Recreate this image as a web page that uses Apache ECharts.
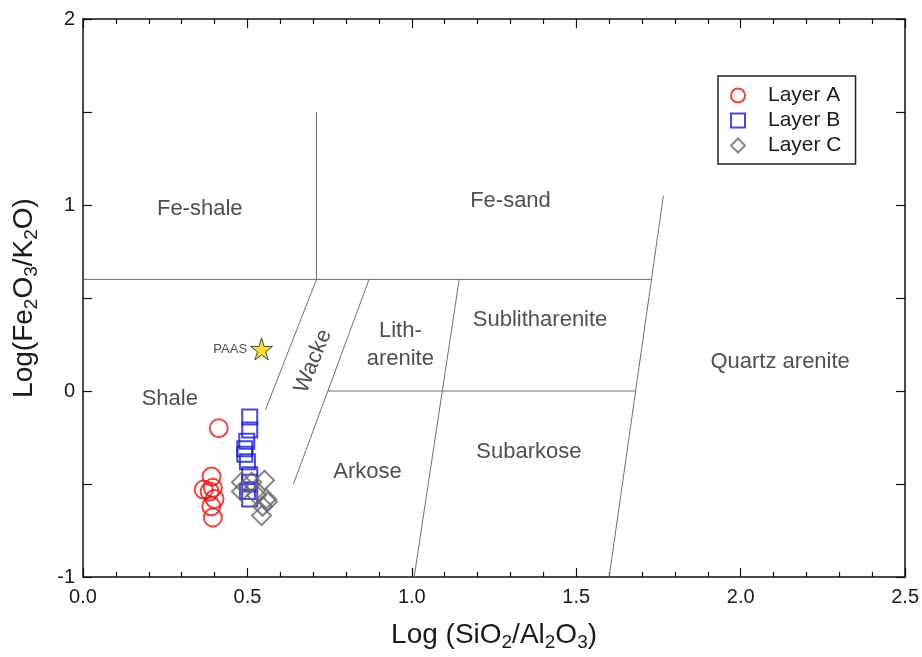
<!DOCTYPE html>
<html>
<head>
<meta charset="utf-8">
<script src="https://cdn.jsdelivr.net/npm/echarts@6/dist/echarts.min.js"></script>
<style>
  html, body { margin: 0; padding: 0; background: #fff; overflow: hidden; }
  #chart { width: 922px; height: 657px; }
</style>
</head>
<body>
<div id="chart"></div>
<script>
// Sample geochemistry: log(SiO2/Al2O3) vs log(Fe2O3/K2O)
const layerA = [[0.413,-0.20],[0.391,-0.46],[0.367,-0.53],[0.395,-0.52],[0.385,-0.54],[0.400,-0.58],[0.390,-0.62],[0.395,-0.68]];
const layerB = [[0.507,-0.14],[0.507,-0.21],[0.498,-0.27],[0.492,-0.31],[0.492,-0.34],[0.500,-0.38],[0.507,-0.45],[0.507,-0.49],[0.500,-0.54],[0.507,-0.58]];
const layerC = [[0.482,-0.49],[0.482,-0.54],[0.513,-0.49],[0.552,-0.48],[0.528,-0.56],[0.558,-0.58],[0.546,-0.62],[0.561,-0.595],[0.543,-0.67]];
const paas = [[0.543, 0.226]];

// Field boundaries of the classification diagram
const boundaries = [
  [[0.71, 0.6], [0.71, 1.5]],
  [[0.0, 0.6], [1.727, 0.6]],
  [[0.745, 0.0], [1.68, 0.0]],
  [[0.71, 0.6], [0.555, -0.1]],
  [[0.87, 0.6], [0.64, -0.5]],
  [[1.144, 0.6], [1.007, -1.0]],
  [[1.6, -1.0], [1.765, 1.05]]
];

// Field names and where they sit
const fieldNames = ['Fe-shale', 'Fe-sand', 'Lith-\narenite', 'Sublitharenite', 'Wacke', 'Shale', 'Arkose', 'Subarkose', 'Quartz arenite'];
const fieldPos = [[0.355, 0.98], [1.30, 1.02], [0.965, 0.25], [1.39, 0.38], [0.70, 0.16], [0.264, -0.04], [0.865, -0.437], [1.356, -0.326], [2.12, 0.158]];
const fieldRotate = [0, 0, 0, 0, 68, 0, 0, 0, 0];

const xTicks = { min: 0, max: 2.5, interval: 0.5 };
const yTicks = { min: -1, max: 2, interval: 1 };

const FONT = 'Liberation Sans, Arial, sans-serif';
const TXT = '#1a1a1a';
const starPath = 'path://M50,0 L61,35 L98,35 L68,57 L79,91 L50,70 L21,91 L32,57 L2,35 L39,35 Z';

const chart = echarts.init(document.getElementById('chart'));

const boundarySeries = boundaries.map(seg => ({
  type: 'line',
  data: seg,
  symbol: 'none',
  silent: true,
  lineStyle: { color: '#6e6e6e', width: 1 },
  z: 1
}));

const fieldSeries = {
  type: 'scatter',
  silent: true,
  symbolSize: 0,
  data: fieldPos.map((p, i) => ({
    value: p,
    label: { formatter: fieldNames[i], rotate: fieldRotate[i] }
  })),
  label: {
    show: true,
    position: 'inside',
    color: '#222',
    fontSize: 22,
    fontFamily: FONT,
    lineHeight: 28,
    align: 'center',
    verticalAlign: 'middle'
  },
  z: 2
};

const axisBase = {
  type: 'value',
  axisLine: { show: true, onZero: false, lineStyle: { color: '#111', width: 1.5 } },
  splitLine: { show: false },
  axisTick: { show: true, inside: true, length: 9, lineStyle: { color: '#111', width: 1.2 } },
  minorTick: { show: true, splitNumber: 5, length: 5, lineStyle: { color: '#111', width: 1.2 } }
};

const titleStyle = {
  color: TXT, fontSize: 28, fontFamily: FONT,
  rich: { sub: { fontSize: 19, fontFamily: FONT, color: TXT, padding: [14, 0, 0, 0] } }
};

const option = {
  backgroundColor: '#fff',
  animation: false,
  grid: { left: 83, right: 16, top: 19, bottom: 72 },
  legend: {
    data: ['Layer A', 'Layer B', 'Layer C'],
    orient: 'vertical',
    left: 718,
    top: 76,
    padding: [9, 14, 8, 12],
    itemGap: 4,
    itemWidth: 14,
    itemHeight: 14,
    borderColor: '#222',
    borderWidth: 1.5,
    textStyle: { fontSize: 21, fontFamily: FONT, color: TXT, padding: [0, 0, 0, 18] }
  },
  xAxis: [
    Object.assign({}, axisBase, {
      position: 'bottom',
      min: xTicks.min, max: xTicks.max, interval: xTicks.interval,
      axisLabel: {
        color: TXT, fontSize: 20, fontFamily: FONT, margin: 10,
        formatter: v => v.toFixed(1)
      },
      name: 'Log (SiO{sub|2}/Al{sub|2}O{sub|3})',
      nameLocation: 'middle',
      nameGap: 42,
      nameTextStyle: titleStyle
    }),
    Object.assign({}, axisBase, {
      position: 'top',
      min: xTicks.min, max: xTicks.max, interval: xTicks.interval,
      axisLabel: { show: false }
    })
  ],
  yAxis: [
    Object.assign({}, axisBase, {
      position: 'left',
      min: yTicks.min, max: yTicks.max, interval: yTicks.interval,
      minorTick: { show: true, splitNumber: 2, length: 9, lineStyle: { color: '#111', width: 1.2 } },
      axisLabel: { color: TXT, fontSize: 20, fontFamily: FONT, margin: 8 },
      name: 'Log(Fe{sub|2}O{sub|3}/K{sub|2}O)',
      nameLocation: 'middle',
      nameRotate: 90,
      nameGap: 42,
      nameTextStyle: titleStyle
    }),
    Object.assign({}, axisBase, {
      position: 'right',
      min: yTicks.min, max: yTicks.max, interval: yTicks.interval,
      minorTick: { show: true, splitNumber: 2, length: 9, lineStyle: { color: '#111', width: 1.2 } },
      axisLabel: { show: false }
    })
  ],
  series: boundarySeries.concat([
    fieldSeries,
    {
      name: 'PAAS',
      type: 'scatter',
      data: paas,
      symbol: starPath,
      symbolSize: 22,
      itemStyle: { color: '#f5d800', borderColor: '#222', borderWidth: 1 },
      label: {
        show: true, position: 'left', distance: 3, formatter: 'PAAS',
        color: '#222', fontSize: 13, fontFamily: FONT
      },
      z: 5
    },
    {
      name: 'Layer A',
      type: 'scatter',
      data: layerA,
      symbol: 'circle',
      symbolSize: 18,
      itemStyle: { color: 'rgba(0,0,0,0)', borderColor: '#ee1111', borderWidth: 2 },
      z: 4
    },
    {
      name: 'Layer B',
      type: 'scatter',
      data: layerB,
      symbol: 'rect',
      symbolSize: 15,
      itemStyle: { color: 'rgba(0,0,0,0)', borderColor: '#1a1acc', borderWidth: 2 },
      z: 4
    },
    {
      name: 'Layer C',
      type: 'scatter',
      data: layerC,
      symbol: 'diamond',
      symbolSize: 19,
      itemStyle: { color: 'rgba(0,0,0,0)', borderColor: '#666666', borderWidth: 2 },
      z: 4
    }
  ])
};

chart.setOption(option);
</script>
</body>
</html>
